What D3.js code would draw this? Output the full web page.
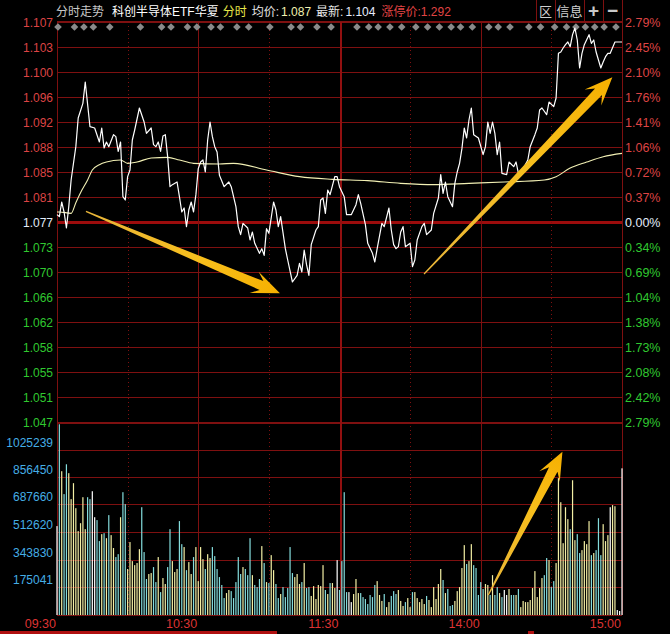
<!DOCTYPE html>
<html>
<head>
<meta charset="utf-8">
<script src="https://cdn.jsdelivr.net/npm/d3@7"></script>
<style>
html, body { margin: 0; padding: 0; background: #000; }
svg { display: block; }
text { font-family: "Liberation Sans", Arial, "Noto Sans CJK SC", sans-serif; font-size: 12px; }
</style>
</head>
<body>
<svg id="chart" width="670" height="634"></svg>
<script>
// minute index (0 = 09:30, 240 = 15:00) and price
const priceMin = [0,1,2,3,4,5,6,8,9,11,12,14,16,18,19,20,21,22,24,25,26,27,28,29,30,31,32,33,35,37,38,40,41,42,43,44,45,46,47,48,49,51,52,53,54,55,56,57,58,59,60,61,62,63,64,65,66,67,68,69,71,73,74,76,77,78,79,81,82,83,84,86,87,88,89,90,92,93,94,95,97,98,100,102,103,104,105,106,107,108,110,111,112,113,114,115,116,118,119,120,122,123,125,127,128,129,131,132,134,135,136,138,139,141,142,143,144,145,146,147,148,150,151,152,153,155,156,157,159,160,162,163,164,165,166,168,169,170,171,172,173,174,175,176,177,179,181,182,183,184,185,186,187,188,189,191,192,194,195,196,198,200,201,203,204,205,206,208,209,211,212,213,214,215,216,217,218,219,220,221,222,223,224,226,227,228,229,230,231,232,233,234,235,237,240];
const priceVal = [1.0781,1.0778,1.0800,1.0785,1.0761,1.0793,1.0833,1.0883,1.0926,1.0948,1.0980,1.0913,1.0911,1.0890,1.0911,1.0881,1.0890,1.0883,1.0901,1.0898,1.0876,1.0890,1.0808,1.0803,1.0838,1.0848,1.0893,1.0908,1.0941,1.0920,1.0903,1.0911,1.0886,1.0883,1.0890,1.0876,1.0899,1.0901,1.0868,1.0823,1.0826,1.0830,1.0808,1.0785,1.0791,1.0763,1.0788,1.0800,1.0785,1.0811,1.0850,1.0860,1.0863,1.0845,1.0893,1.0920,1.0898,1.0883,1.0875,1.0840,1.0823,1.0830,1.0823,1.0793,1.0763,1.0751,1.0768,1.0761,1.0743,1.0755,1.0738,1.0723,1.0730,1.0720,1.0760,1.0753,1.0800,1.0788,1.0763,1.0778,1.0730,1.0713,1.0680,1.0690,1.0708,1.0695,1.0728,1.0706,1.0690,1.0736,1.0758,1.0763,1.0803,1.0806,1.0783,1.0818,1.0811,1.0838,1.0838,1.0823,1.0808,1.0781,1.0781,1.0796,1.0811,1.0798,1.0766,1.0738,1.0723,1.0710,1.0730,1.0768,1.0763,1.0791,1.0758,1.0736,1.0730,1.0733,1.0755,1.0763,1.0733,1.0738,1.0703,1.0713,1.0743,1.0763,1.0768,1.0751,1.0758,1.0783,1.0806,1.0841,1.0813,1.0830,1.0808,1.0793,1.0828,1.0845,1.0858,1.0880,1.0911,1.0896,1.0923,1.0941,1.0901,1.0896,1.0871,1.0883,1.0920,1.0903,1.0920,1.0903,1.0871,1.0890,1.0843,1.0841,1.0860,1.0853,1.0860,1.0843,1.0850,1.0863,1.0883,1.0901,1.0911,1.0938,1.0941,1.0931,1.0950,1.0943,1.0956,1.1023,1.1025,1.1031,1.1036,1.1040,1.1033,1.1051,1.1061,1.1043,1.1001,1.1023,1.1036,1.1051,1.1038,1.1043,1.1025,1.1013,1.1001,1.1010,1.1018,1.1023,1.1023,1.1040,1.1040];

// average price line
const avgMin = [0,1,6,8,10,13,15,18,21,27,30,34,40,47,52,58,69,75,89,103,117,132,146,160,175,190,207,212,218,225,232,240];
const avgVal = [1.0785,1.0785,1.0783,1.0799,1.0814,1.0833,1.0848,1.0856,1.0860,1.0863,1.0858,1.0860,1.0866,1.0867,1.0863,1.0858,1.0857,1.0858,1.0848,1.0838,1.0834,1.0832,1.0828,1.0826,1.0828,1.0830,1.0833,1.0838,1.0851,1.0860,1.0868,1.0873];

// volume per minute, 241 bars
const volumes = [
  551000,1182000,891000,749000,934000,879000,718000,817000,662000,520000,
  569000,730000,532000,730000,718000,767000,606000,588000,458000,501000,
  507000,476000,619000,495000,415000,359000,377000,606000,761000,687000,
  285000,452000,334000,309000,322000,408000,668000,390000,223000,254000,
  260000,297000,204000,359000,142000,229000,192000,297000,532000,334000,
  266000,285000,582000,439000,421000,278000,328000,254000,359000,421000,
  210000,421000,346000,285000,377000,353000,421000,365000,285000,235000,
  186000,105000,136000,155000,148000,105000,204000,359000,254000,297000,
  285000,247000,476000,247000,186000,173000,223000,427000,322000,204000,
  198000,371000,278000,192000,105000,130000,173000,111000,167000,421000,
  260000,235000,254000,192000,204000,322000,167000,173000,118000,179000,
  99000,186000,179000,309000,155000,130000,198000,198000,167000,340000,
  155000,334000,761000,142000,142000,80000,130000,223000,136000,136000,
  111000,99000,68000,124000,111000,186000,210000,124000,87000,130000,
  49000,80000,118000,148000,130000,155000,87000,56000,80000,105000,
  49000,142000,142000,105000,80000,99000,68000,118000,93000,49000,
  173000,99000,192000,285000,217000,136000,161000,56000,62000,87000,
  148000,173000,291000,433000,316000,334000,439000,309000,291000,124000,
  204000,161000,192000,186000,124000,247000,124000,173000,136000,111000,
  155000,124000,161000,124000,124000,124000,161000,49000,87000,80000,
  80000,93000,167000,272000,111000,167000,229000,247000,353000,340000,
  173000,210000,322000,848000,699000,445000,668000,594000,532000,835000,
  464000,501000,384000,402000,458000,439000,582000,371000,384000,402000,
  600000,371000,563000,458000,495000,668000,681000,674000,31000,25000,909000
];

const priceTickLabels = ["1.107","1.103","1.100","1.096","1.092","1.088","1.085","1.081","1.077","1.073","1.070","1.066","1.062","1.058","1.055","1.051","1.047"];
const pctTickLabels = ["2.79%","2.45%","2.10%","1.76%","1.41%","1.06%","0.72%","0.37%","0.00%","0.34%","0.69%","1.04%","1.38%","1.73%","2.08%","2.42%","2.79%"];
const volTicks = [1025239,856450,687660,512620,343830,175041];
const timeTicks = [0,60,120,180,240];
const timeLabels = ["09:30","10:30","11:30","14:00","15:00"];
const gridMinutes = [30,60,90,120,150,180,210];
const diamondMin = [0,7,11,15,22,35,44,48,55,59,65,69,76,81,90,99,103,110,116,127,132,136,141,146,152,157,162,167,171,176,183,187,192,200,205,211,216,220,224,228,232,237];

// annotation arrows [minute, value]
const arrows = [
  {pane: "price", from: [12.3, 1.0786], to: [94.7, 1.0663]},
  {pane: "price", from: [155.9, 1.0692], to: [235.9, 1.0987]},
  {pane: "vol", from: [183.2, 124000], to: [214.7, 1012000]}
];

const pLeft = 57, pRight = 622, pTop = 22, pMid = 422, pBottom = 615;
const priceTop = 1.107, priceBot = 1.047, baseIdx = 8;

const x = d3.scaleLinear().domain([0, 240]).range([pLeft, pRight]);
const y = d3.scaleLinear().domain([priceBot, priceTop]).range([pMid, pTop]);
const yv = d3.scaleLinear().domain([0, 1196000]).range([pBottom, pMid]);

const svg = d3.select("#chart");
svg.append("rect").attr("width", 670).attr("height", 634).attr("fill", "#000");

const gridCol = "#7e1010";
const step = (priceTop - priceBot) / (priceTickLabels.length - 1);
const priceGrid = priceTickLabels.map((d, i) => priceTop - i * step);

let grid = svg.append("g").attr("shape-rendering", "crispEdges");

// horizontal grid, price pane
grid.selectAll("line.hp").data(priceGrid).join("line")
  .attr("x1", pLeft).attr("x2", pRight)
  .attr("y1", d => Math.round(y(d)) + 0.5).attr("y2", d => Math.round(y(d)) + 0.5)
  .attr("stroke", (d, i) => i == baseIdx ? "#9c0c0c" : gridCol)
  .attr("stroke-width", (d, i) => i == baseIdx ? 3 : (i == priceGrid.length - 1 ? 2 : 1));

// horizontal grid, volume pane
grid.selectAll("line.hv").data(volTicks.concat([0])).join("line")
  .attr("x1", pLeft).attr("x2", pRight)
  .attr("y1", d => Math.round(yv(d)) + 0.5).attr("y2", d => Math.round(yv(d)) + 0.5)
  .attr("stroke", gridCol).attr("stroke-width", 1);

// vertical grid
grid.selectAll("line.v").data(gridMinutes).join("line")
  .attr("x1", d => Math.round(x(d)) + 0.5).attr("x2", d => Math.round(x(d)) + 0.5)
  .attr("y1", pTop).attr("y2", pBottom)
  .attr("stroke", d => d == 120 ? "#921010" : gridCol)
  .attr("stroke-width", d => d == 120 ? 2 : 1)
  .attr("stroke-dasharray", d => d % 60 == 30 ? "1,3" : null);

// borders
grid.append("line").attr("x1", pLeft + 0.5).attr("x2", pLeft + 0.5).attr("y1", pTop).attr("y2", pBottom)
  .attr("stroke", gridCol);
grid.append("line").attr("x1", pRight + 0.5).attr("x2", pRight + 0.5).attr("y1", 0).attr("y2", pBottom)
  .attr("stroke", gridCol);
grid.append("line").attr("x1", pLeft).attr("x2", pRight).attr("y1", 21.5).attr("y2", 21.5)
  .attr("stroke", gridCol);

// header buttons
const btnEdges = [536, 555, 584, 603, 622];
grid.selectAll("line.btn").data(btnEdges).join("line")
  .attr("x1", d => d + 0.5).attr("x2", d => d + 0.5).attr("y1", 0).attr("y2", 21)
  .attr("stroke", gridCol);
const btnText = ["区", "信息", "+", "−"];
svg.selectAll("text.btn").data(btnText).join("text")
  .attr("x", (d, i) => (btnEdges[i] + btnEdges[i + 1]) / 2)
  .attr("y", (d, i) => i < 2 ? 15.5 : 16.5)
  .attr("text-anchor", "middle")
  .attr("fill", (d, i) => i < 2 ? "#d0d0d0" : "#c8c8c8")
  .style("font-size", (d, i) => i < 2 ? "13px" : "19px")
  .style("font-weight", (d, i) => i < 2 ? "normal" : "bold")
  .text(d => d);

// header text
const header = [
  {t: "分时走势", dx: 0, c: "#c8c8c8"},
  {t: "科创半导体ETF华夏", dx: 8, c: "#ffffff"},
  {t: "分时", dx: 4, c: "#e8e84a"},
  {t: "均价:", dx: 5, c: "#e6e6e6"},
  {t: "1.087", dx: 2, c: "#f0f0b0"},
  {t: "最新:", dx: 5, c: "#e6e6e6"},
  {t: "1.104", dx: 2, c: "#e6ecff"},
  {t: "涨停价:", dx: 6, c: "#e04444"},
  {t: "1.292", dx: 0, c: "#e04444"}
];
svg.append("text").attr("x", 56).attr("y", 15.5)
  .selectAll("tspan").data(header).join("tspan")
  .attr("dx", d => d.dx)
  .attr("fill", d => d.c)
  .text(d => d.t);

// diamonds
svg.append("g").selectAll("path").data(diamondMin).join("path")
  .attr("d", d => {
    let cx = x(d) + 1, cy = 27;
    return `M${cx},${cy - 3.8}L${cx + 3.8},${cy}L${cx},${cy + 3.8}L${cx - 3.8},${cy}Z`;
  })
  .attr("fill", "#8a8a8a");

// axis labels
const colUp = "#dd4444", colDown = "#30c830", colBase = "#e2ecfb";
svg.selectAll("text.pl").data(priceGrid).join("text")
  .attr("x", 53).attr("y", d => y(d) + 4.5)
  .attr("text-anchor", "end")
  .attr("fill", (d, i) => i < baseIdx ? colUp : (i == baseIdx ? colBase : colDown))
  .text((d, i) => priceTickLabels[i]);

svg.selectAll("text.pr").data(priceGrid).join("text")
  .attr("x", 625).attr("y", d => y(d) + 4.5)
  .attr("fill", (d, i) => i < baseIdx ? colUp : (i == baseIdx ? colBase : colDown))
  .style("font-size", "12.5px")
  .text((d, i) => pctTickLabels[i]);

svg.selectAll("text.vl").data(volTicks).join("text")
  .attr("x", 53).attr("y", d => yv(d) - 3)
  .attr("text-anchor", "end")
  .attr("fill", "#45aee6")
  .text(d => d);

svg.selectAll("text.tl").data(timeTicks).join("text")
  .attr("x", d => x(d) - 1).attr("y", 628)
  .attr("text-anchor", "end")
  .attr("fill", "#dd3333")
  .style("font-size", "12.5px")
  .text((d, i) => timeLabels[i]);

// bottom strip
svg.append("rect").attr("x", 0).attr("y", 631).attr("width", 277).attr("height", 3).attr("fill", "#b01010");
svg.append("rect").attr("x", 528).attr("y", 631).attr("width", 6).attr("height", 3).attr("fill", "#b01010");

// volume bars, colour from price direction
const pts = d3.zip(priceMin, priceVal);
const bis = d3.bisector(d => d[0]).left;
function priceAt(m) {
  let i = bis(pts, m);
  if (i <= 0) return pts[0][1];
  if (i >= pts.length) return pts[pts.length - 1][1];
  let a = pts[i - 1], b = pts[i];
  return a[1] + (b[1] - a[1]) * (m - a[0]) / (b[0] - a[0]);
}
const colUpBar = "#f2eea4", colDnBar = "#84dcdc", colFlat = "#ffffff";
svg.append("g").selectAll("rect").data(volumes).join("rect")
  .attr("x", (d, i) => x(i) - 0.6)
  .attr("width", 1.2)
  .attr("y", d => yv(d))
  .attr("height", d => pBottom - yv(d))
  .attr("fill", (d, i) => {
    if (i == 0) return colFlat;
    let dp = priceAt(i) - priceAt(i - 1);
    return dp > 0.00012 ? colUpBar : (dp < -0.00012 ? colDnBar : colFlat);
  });

// average line
svg.append("path")
  .datum(d3.zip(avgMin, avgVal))
  .attr("d", d3.line().x(d => x(d[0])).y(d => y(d[1])).curve(d3.curveMonotoneX))
  .attr("fill", "none").attr("stroke", "#f2f0b4").attr("stroke-width", 1.1);

// price line
svg.append("path")
  .datum(pts)
  .attr("d", d3.line().x(d => x(d[0])).y(d => y(d[1])))
  .attr("fill", "none").attr("stroke", "#ffffff").attr("stroke-width", 1.2)
  .attr("stroke-linejoin", "round");

// arrows
const defs = svg.append("defs");
arrows.forEach(function(a, k) {
  let ys = a.pane == "price" ? y : yv;
  let t0 = [x(a.from[0]), ys(a.from[1])];
  let t1 = [x(a.to[0]), ys(a.to[1])];
  let dx = t1[0] - t0[0], dy = t1[1] - t0[1];
  let len = Math.hypot(dx, dy);
  let u = [dx / len, dy / len], n = [-u[1], u[0]];
  let headLen = 28, headW = 11.5, neck = 20, sw = 4.8, tw = 0.6;
  let P = (base, along, side) => [base[0] + u[0] * along + n[0] * side, base[1] + u[1] * along + n[1] * side];
  let poly = [
    P(t0, 0, tw), P(t1, -neck, sw), P(t1, -headLen, headW), t1,
    P(t1, -headLen, -headW), P(t1, -neck, -sw), P(t0, 0, -tw)
  ];
  let gid = "ag" + k;
  let g = defs.append("linearGradient").attr("id", gid)
    .attr("gradientUnits", "userSpaceOnUse")
    .attr("x1", t0[0]).attr("y1", t0[1]).attr("x2", t1[0]).attr("y2", t1[1]);
  g.append("stop").attr("offset", 0).attr("stop-color", "#e8b53a");
  g.append("stop").attr("offset", 0.6).attr("stop-color", "#f8bf1c");
  g.append("stop").attr("offset", 1).attr("stop-color", "#f6b000");
  svg.append("path")
    .attr("d", "M" + poly.map(p => p.join(",")).join("L") + "Z")
    .attr("fill", "url(#" + gid + ")");
});
</script>
</body>
</html>
